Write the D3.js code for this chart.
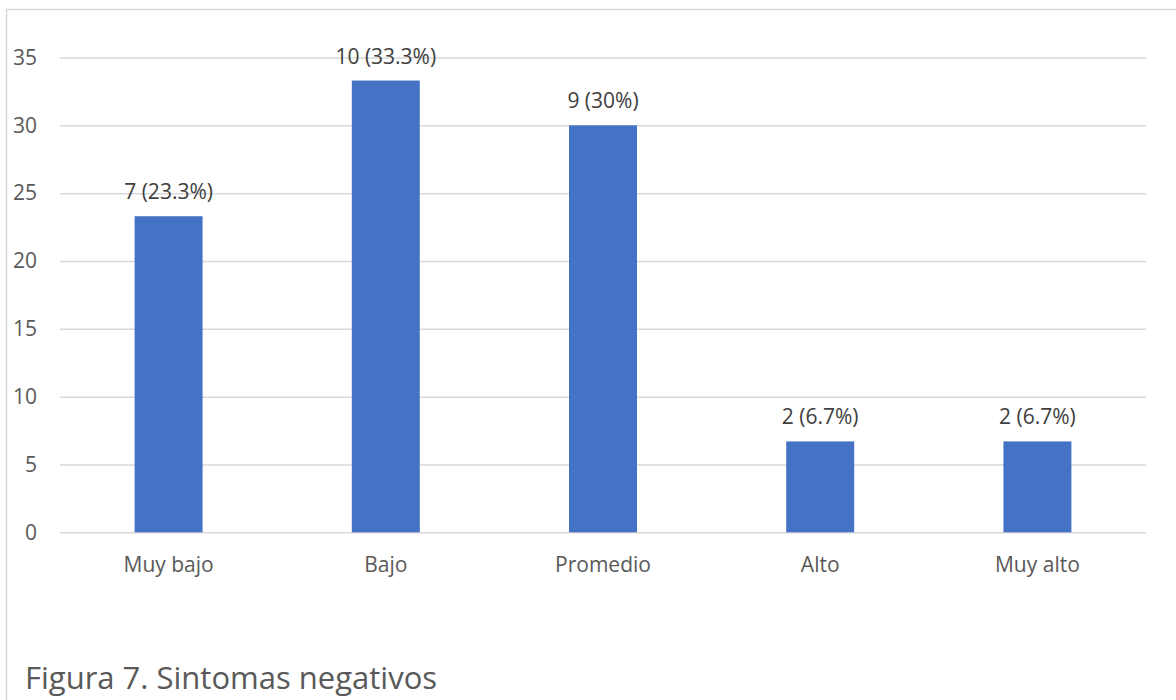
<!DOCTYPE html>
<html>
<head>
<meta charset="utf-8">
<script src="https://cdn.jsdelivr.net/npm/d3@7"></script>
<style>
  html, body { margin: 0; padding: 0; background: #fff; }
  svg { display: block; font-family: "Open Sans", "Noto Sans", sans-serif; }
</style>
</head>
<body>
<svg id="chart" width="1176" height="700"></svg>
<script>
// Negative symptom levels: counts and share of participants
const categories = ["Muy bajo", "Bajo", "Promedio", "Alto", "Muy alto"];
const percentages = [23.3, 33.3, 30, 6.7, 6.7];
const counts = [7, 10, 9, 2, 2];
const yTicks = [0, 5, 10, 15, 20, 25, 30, 35];
const title = "Figura 7. Sintomas negativos";

const svg = d3.select("#chart");
const W = 1176, H = 700;
const plot = { left: 60, right: 1146, top: 57.5, bottom: 532.3 };
const labelSize = 21;

// Outer frame of the chart area
svg.append("rect")
  .attr("x", 6.5).attr("y", 9.5)
  .attr("width", W + 10).attr("height", H + 10)
  .attr("fill", "none")
  .attr("stroke", "#d9d9d9")
  .attr("stroke-width", 1.5);

const x = d3.scaleBand()
  .domain(categories)
  .range([plot.left, plot.right])
  .paddingInner(0.687)
  .paddingOuter(0.3435);

const y = d3.scaleLinear()
  .domain([0, 35])
  .range([plot.bottom, plot.top]);

// Horizontal gridlines with value labels
const yAxis = d3.axisLeft(y)
  .tickValues(yTicks)
  .tickSize(-(plot.right - plot.left))
  .tickPadding(23);

const gy = svg.append("g")
  .attr("transform", `translate(${plot.left},0)`)
  .call(yAxis);
gy.select(".domain").remove();
gy.selectAll(".tick line")
  .attr("stroke", "#d9d9d9")
  .attr("stroke-width", 1.5);
gy.selectAll(".tick text")
  .attr("fill", "#595959")
  .attr("font-size", labelSize)
  .attr("font-family", "Open Sans, sans-serif");

// Category labels
const xAxis = d3.axisBottom(x).tickSize(0).tickPadding(24.5);
const gx = svg.append("g")
  .attr("transform", `translate(0,${plot.bottom})`)
  .call(xAxis);
gx.select(".domain").remove();
gx.selectAll(".tick text")
  .attr("fill", "#595959")
  .attr("font-size", labelSize)
  .attr("font-family", "Open Sans, sans-serif");

// Bars
svg.append("g").selectAll("rect")
  .data(categories)
  .join("rect")
  .attr("x", d => x(d))
  .attr("width", x.bandwidth())
  .attr("y", (d, i) => y(percentages[i]))
  .attr("height", (d, i) => y(0) - y(percentages[i]))
  .attr("fill", "#4472C4");

// Value labels above bars
svg.append("g").selectAll("text")
  .data(categories)
  .join("text")
  .attr("x", d => x(d) + x.bandwidth() / 2)
  .attr("y", (d, i) => y(percentages[i]) - 17)
  .attr("text-anchor", "middle")
  .attr("fill", "#404040")
  .attr("font-size", labelSize)
  .text((d, i) => `${counts[i]} (${percentages[i]}%)`);

// Figure caption
svg.append("text")
  .attr("x", 25)
  .attr("y", 689)
  .attr("fill", "#595959")
  .attr("font-size", 31)
  .text(title);
</script>
</body>
</html>
